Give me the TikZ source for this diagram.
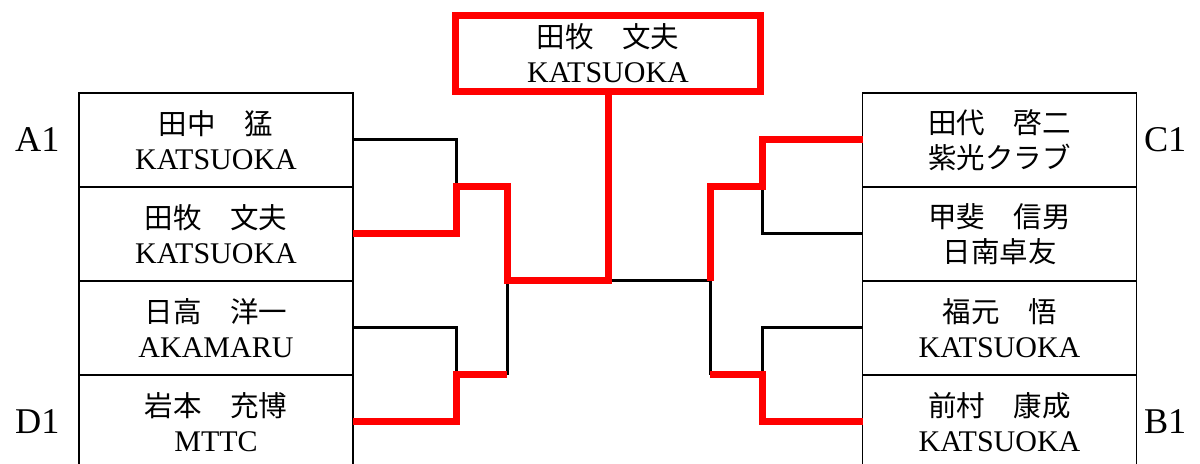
\documentclass[tikz,border=0pt]{standalone}
\usepackage{fontspec}
\setmainfont{Liberation Serif}
\newfontfamily\jp{Noto Sans CJK JP}
\usetikzlibrary{positioning}
\newcommand\jpn{\jp\fontsize{11.4}{14}\selectfont}
\begin{document}
\begin{tikzpicture}[x=0.4pt, y=-0.4pt]
% Define styles
\tikzstyle{entry} = [rectangle, minimum width=109.6pt, minimum height=37.6pt, outer sep=0pt, align=center, draw=black, line width=0.7pt, font=\fontsize{12}{14}\selectfont]
\tikzstyle{champion} = [rectangle, minimum width=122pt, minimum height=30.4pt, outer sep=0pt, align=center, draw=red, line width=2.8pt, font=\fontsize{12}{14}\selectfont]
\tikzstyle{seed} = [inner sep=0pt, font=\fontsize{14.5}{16}\selectfont]
\tikzstyle{lose} = [line width=1.2pt, black]
\tikzstyle{win} = [line width=2.8pt, red, line join=miter]

\clip (0,0) rectangle (1200,464);

% Create nodes
\node (champ) [champion] at (608,53.5) {{\jpn 田牧　文夫}\\KATSUOKA};

% Left block
\node (a1) [entry] at (216,140) {{\jpn 田中　猛}\\KATSUOKA};
\node (a2) [entry, below=0pt of a1] {{\jpn 田牧　文夫}\\KATSUOKA};
\node (d2) [entry, below=0pt of a2] {{\jpn 日高　洋一}\\AKAMARU};
\node (d1) [entry, below=0pt of d2] {{\jpn 岩本　充博}\\MTTC};

% Right block
\node (c1) [entry] at (999.5,140) {{\jpn 田代　啓二}\\{\jpn 紫光クラブ}};
\node (c2) [entry, below=0pt of c1] {{\jpn 甲斐　信男}\\{\jpn 日南卓友}};
\node (b2) [entry, below=0pt of c2] {{\jpn 福元　悟}\\KATSUOKA};
\node (b1) [entry, below=0pt of b2] {{\jpn 前村　康成}\\KATSUOKA};

% Seeds
\node (sA) [seed, left=7.6pt of a1] {A1};
\node (sD) [seed, left=7.6pt of d1] {D1};
\node (sC) [seed, right=2.8pt of c1] {C1};
\node (sB) [seed, right=2.8pt of b1] {B1};

% Bracket joints
\coordinate (ja) at (456,187);
\coordinate (jd) at (456,375);
\coordinate (jl) at (507,281);
\coordinate (jc) at (762,187);
\coordinate (jb) at (762,375);
\coordinate (jr) at (710,281);

% Draw lines
\draw [lose] (a1.east) -| (ja);
\draw [lose] (d2.east) -| (jd);
\draw [lose] (jd -| jl) -- (jl);
\draw [lose] (c2.west) -| (jc);
\draw [lose] (b2.west) -| (jb);
\draw [lose] (jb -| jr) -- (jr);
\draw [lose] (jr) -- (jr -| champ.south);

\draw [win] (a2.east) -| (ja) -| (jl) -| (champ.south);
\draw [win] (d1.east) -| (jd) -- (jd -| jl);
\draw [win] (c1.west) -| (jc) -| (jr);
\draw [win] (b1.west) -| (jb) -- (jb -| jr);
\end{tikzpicture}
\end{document}
